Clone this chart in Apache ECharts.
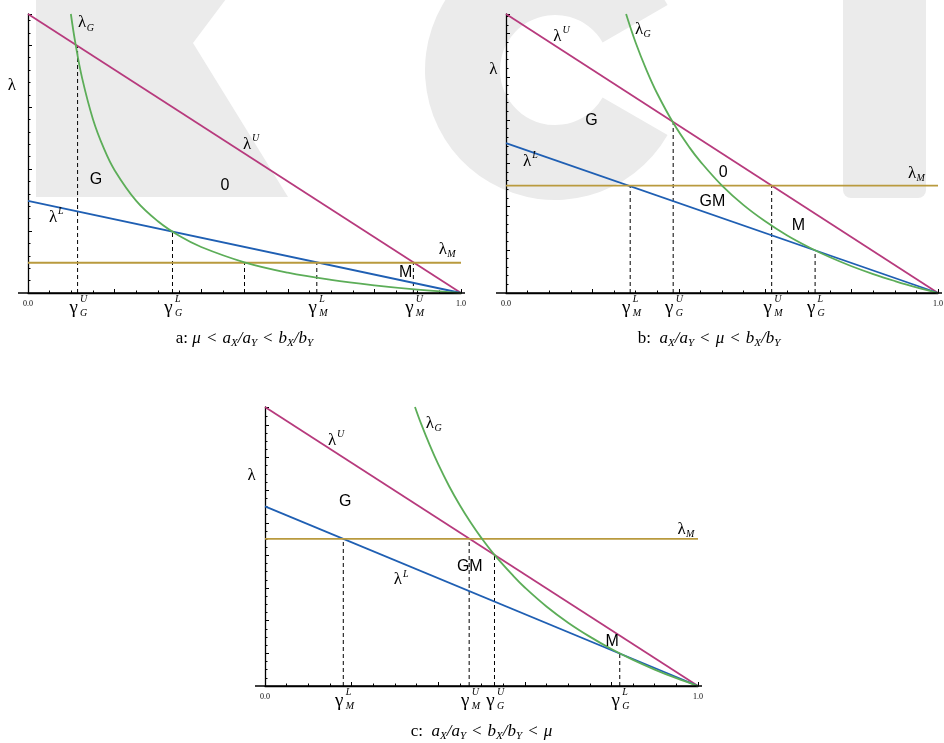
<!DOCTYPE html>
<html>
<head>
<meta charset="utf-8">
<title>lambda regions</title>
<script src="https://cdn.jsdelivr.net/npm/echarts@6/dist/echarts.min.js"></script>
<style>
  html, body { margin: 0; padding: 0; background: #fff; }
  #main { width: 944px; height: 743px; }
</style>
</head>
<body>
<div id="main"></div>
<script>
// x = gamma in [0,1], y = lambda scaled so that lambda^U(0) = 1
const xTickLabels = ['0.0', '1.0'];

// panel a: mu < aX/aY < bX/bY
const lamUA = [[0, 1], [1, 0]];
const lamLA = [[0, 0.33], [1, 0]];
const lamMA = [[0, 0.1085], [1, 0.1085]];
const lamGA = [[0.099, 1.0], [0.11, 0.89], [0.125, 0.77], [0.15, 0.623], [0.175, 0.519], [0.2, 0.44],
  [0.25, 0.33], [0.3, 0.257], [0.35, 0.204], [0.4, 0.165], [0.5, 0.11], [0.6, 0.073], [0.7, 0.047],
  [0.8, 0.0275], [0.9, 0.012], [1.0, 0]];
const cutXA = [0.1145, 0.3337, 0.5, 0.667, 0.89];
const cutTopA = [0.885, 0.222, 0.1085, 0.1085, 0.1085];
const cutNameA = [['G', 'U'], ['G', 'L'], null, ['M', 'L'], ['M', 'U']];

// panel b: aX/aY < mu < bX/bY
const lamUB = [[0, 1], [1, 0]];
const lamLB = [[0, 0.537], [1, 0]];
const lamMB = [[0, 0.385], [1, 0.385]];
const lamGB = [[0.278, 1.0], [0.3, 0.898], [0.325, 0.8], [0.35, 0.715], [0.387, 0.61], [0.425, 0.521],
  [0.45, 0.471], [0.5, 0.385], [0.55, 0.315], [0.6, 0.257], [0.65, 0.207], [0.7, 0.165], [0.75, 0.128],
  [0.8, 0.096], [0.85, 0.068], [0.9, 0.043], [0.95, 0.02], [1.0, 0]];
const cutXB = [0.2875, 0.387, 0.615, 0.7155];
const cutTopB = [0.385, 0.613, 0.385, 0.1528];
const cutNameB = [['M', 'L'], ['G', 'U'], ['M', 'U'], ['G', 'L']];

// panel c: aX/aY < bX/bY < mu
const lamUC = [[0, 1], [1, 0]];
const lamLC = [[0, 0.644], [1, 0]];
const lamMC = [[0, 0.527], [1, 0.527]];
const lamGC = [[0.3464, 1.0], [0.36, 0.942], [0.38, 0.865], [0.4, 0.795], [0.425, 0.717], [0.45, 0.648],
  [0.475, 0.586], [0.5, 0.53], [0.53, 0.47], [0.575, 0.392], [0.6, 0.353], [0.65, 0.285], [0.7, 0.227],
  [0.75, 0.177], [0.8, 0.1325], [0.85, 0.0935], [0.9, 0.0589], [0.95, 0.0279], [1.0, 0]];
const cutXC = [0.1808, 0.4715, 0.53, 0.8193];
const cutTopC = [0.527, 0.527, 0.47, 0.1165];
const cutNameC = [['M', 'L'], ['M', 'U'], ['G', 'U'], ['G', 'L']];

// text annotations (data coords of the base glyph)
const notesA = [
  { t: 'λ', sub: 'G', at: [0.125, 0.968] },
  { t: 'λ', sup: 'U', at: [0.506, 0.531] },
  { t: 'λ', sup: 'L', at: [0.058, 0.27] },
  { t: 'λ', sub: 'M', at: [0.958, 0.155] },
  { t: 'λ', at: [-0.037, 0.745] },
  { t: 'G', region: true, at: [0.157, 0.406] },
  { t: '0', region: true, at: [0.455, 0.385] },
  { t: 'M', region: true, at: [0.872, 0.073] }
];
const notesB = [
  { t: 'λ', sup: 'U', at: [0.119, 0.921] },
  { t: 'λ', sub: 'G', at: [0.308, 0.946] },
  { t: 'λ', sup: 'L', at: [0.049, 0.47] },
  { t: 'λ', sub: 'M', at: [0.94, 0.427] },
  { t: 'λ', at: [-0.029, 0.8] },
  { t: 'G', region: true, at: [0.198, 0.618] },
  { t: '0', region: true, at: [0.503, 0.432] },
  { t: 'GM', region: true, at: [0.478, 0.328] },
  { t: 'M', region: true, at: [0.677, 0.242] }
];
const notesC = [
  { t: 'λ', sup: 'U', at: [0.155, 0.881] },
  { t: 'λ', sub: 'G', at: [0.381, 0.942] },
  { t: 'λ', sub: 'M', at: [0.962, 0.562] },
  { t: 'λ', sup: 'L', at: [0.307, 0.38] },
  { t: 'λ', at: [-0.031, 0.755] },
  { t: 'G', region: true, at: [0.185, 0.66] },
  { t: 'GM', region: true, at: [0.473, 0.427] },
  { t: 'M', region: true, at: [0.802, 0.159] }
];

const captionA = '{n|a: }{i|μ}{lt|<}{i|a}{s|X}{i|/a}{s|Y}{lt|<}{i|b}{s|X}{i|/b}{s|Y}';
const captionB = '{n|b:  }{i|a}{s|X}{i|/a}{s|Y}{lt|<}{i|μ}{lt|<}{i|b}{s|X}{i|/b}{s|Y}';
const captionC = '{n|c:  }{i|a}{s|X}{i|/a}{s|Y}{lt|<}{i|b}{s|X}{i|/b}{s|Y}{lt|<}{i|μ}';

const COL = { U: '#b73a7d', L: '#1f5fb3', M: '#b99a3e', G: '#5cad58' };
const SERIF = '"Liberation Serif", "Times New Roman", serif';
const SANS = '"Liberation Sans", Arial, sans-serif';
const WM = '#ebebeb';

const panels = [
  { grid: { left: 28, top: 14, width: 433, height: 279 }, yStep: 0.222, ySplit: 5,
    U: lamUA, L: lamLA, M: lamMA, G: lamGA, cutX: cutXA, cutTop: cutTopA, cutName: cutNameA,
    notes: notesA, caption: captionA, capX: 0.5 },
  { grid: { left: 506, top: 14, width: 432, height: 279 }, yStep: 0.155, ySplit: 5,
    U: lamUB, L: lamLB, M: lamMB, G: lamGB, cutX: cutXB, cutTop: cutTopB, cutName: cutNameB,
    notes: notesB, caption: captionB, capX: 0.47 },
  { grid: { left: 265, top: 407, width: 433, height: 279 }, yStep: 0.117, ySplit: 4,
    U: lamUC, L: lamLC, M: lamMC, G: lamGC, cutX: cutXC, cutTop: cutTopC, cutName: cutNameC,
    notes: notesC, caption: captionC, capX: 0.5 }
];

const chart = echarts.init(document.getElementById('main'));

const grids = [], xAxes = [], yAxes = [], series = [];
panels.forEach(function (p, i) {
  grids.push(Object.assign({ containLabel: false, outerBoundsMode: 'none' }, p.grid));
  xAxes.push({
    gridIndex: i, type: 'value', min: 0, max: 1, interval: 0.2,
    axisLine: { show: true, onZero: false, lineStyle: { color: '#000', width: 1.3 } },
    axisTick: { show: true, inside: true, length: 4, lineStyle: { color: '#000', width: 1 } },
    minorTick: { show: true, splitNumber: 4, length: 2.5, lineStyle: { color: '#000', width: 1 } },
    splitLine: { show: false }, minorSplitLine: { show: false },
    axisLabel: {
      show: true, margin: 7, color: '#000', fontFamily: SERIF, fontSize: 8,
      showMinLabel: true, showMaxLabel: true,
      formatter: function (v) { return v === 0 ? xTickLabels[0] : (v === 1 ? xTickLabels[1] : ''); }
    }
  });
  yAxes.push({
    gridIndex: i, type: 'value', min: 0, max: 1, interval: p.yStep,
    axisLine: { show: true, onZero: false, lineStyle: { color: '#000', width: 1.3 } },
    axisTick: { show: true, inside: true, length: 4, lineStyle: { color: '#000', width: 1 } },
    minorTick: { show: true, splitNumber: p.ySplit, length: 2.5, lineStyle: { color: '#000', width: 1 } },
    splitLine: { show: false }, minorSplitLine: { show: false },
    axisLabel: { show: false }
  });
  p.cutX.forEach(function (x, k) {
    series.push({
      type: 'line', xAxisIndex: i, yAxisIndex: i, symbol: 'none', silent: true, z: 3,
      data: [[x, 0], [x, p.cutTop[k]]],
      lineStyle: { color: '#000', width: 1, type: [4, 3] }
    });
  });
  [['U', false], ['L', false], ['M', false], ['G', true]].forEach(function (d) {
    series.push({
      type: 'line', xAxisIndex: i, yAxisIndex: i, symbol: 'none', silent: true, z: 4,
      smooth: d[1] ? 0.4 : false,
      data: p[d[0]],
      lineStyle: { color: COL[d[0]], width: 1.8 }
    });
  });
});

chart.setOption({
  backgroundColor: '#fff',
  animation: false,
  grid: grids, xAxis: xAxes, yAxis: yAxes, series: series
});

function txt(x, y, s, font, align) {
  return {
    type: 'text', x: x, y: y, z: 20, silent: true,
    style: { text: s, font: font, fill: '#000', align: align, verticalAlign: 'middle',
      textAlign: align, textVerticalAlign: 'middle' }
  };
}

const graphics = [
  // light KCI watermark
  { type: 'polygon', z: -5, silent: true,
    shape: { points: [[36, -5], [229, -5], [193, 43], [288, 197], [36, 197]] },
    style: { fill: WM } },
  { type: 'sector', z: -5, silent: true,
    shape: { cx: 555, cy: 70, r: 130, r0: 55, startAngle: Math.PI / 6, endAngle: Math.PI * 11 / 6, clockwise: true },
    style: { fill: WM } },
  { type: 'rect', z: -5, silent: true,
    shape: { x: 843, y: -10, width: 83, height: 208, r: 8 },
    style: { fill: WM } }
];

panels.forEach(function (p, i) {
  const toPx = function (pt) { return chart.convertToPixel({ gridIndex: i }, pt); };
  // x axis runs a little past both ends
  const o = toPx([0, 0]), e = toPx([1, 0]);
  graphics.push({ type: 'line', z: 10, silent: true,
    shape: { x1: o[0] - 10, y1: o[1], x2: e[0] + 4, y2: e[1] },
    style: { stroke: '#000', lineWidth: 1.3 } });
  p.notes.forEach(function (n) {
    const c = toPx(n.at);
    if (n.region) {
      graphics.push(txt(c[0], c[1], n.t, '16px ' + SANS, 'center'));
      return;
    }
    graphics.push(txt(c[0], c[1], n.t, '17px ' + SERIF, 'center'));
    if (n.sup) graphics.push(txt(c[0] + 5, c[1] - 6, n.sup, 'italic 10px ' + SERIF, 'left'));
    if (n.sub) graphics.push(txt(c[0] + 4.5, c[1] + 5, n.sub, 'italic 10px ' + SERIF, 'left'));
  });
  p.cutX.forEach(function (x, k) {
    const nm = p.cutName[k];
    if (!nm) return;
    const c = toPx([x, 0]);
    const gx = c[0] - 4;
    graphics.push(txt(gx, c[1] + 15, 'γ', '19px ' + SERIF, 'center'));
    graphics.push(txt(gx + 6.5, c[1] + 6.5, nm[1], 'italic 10px ' + SERIF, 'left'));
    graphics.push(txt(gx + 6.5, c[1] + 20, nm[0], 'italic 10px ' + SERIF, 'left'));
  });
  const cp = toPx([p.capX, 0]);
  graphics.push({
    type: 'text', x: cp[0], y: cp[1] + 46, z: 20, silent: true,
    style: {
      text: p.caption, fill: '#000', align: 'center', verticalAlign: 'middle',
      textAlign: 'center', textVerticalAlign: 'middle',
      rich: {
        n: { fontFamily: SERIF, fontSize: 17, lineHeight: 20, fill: '#000' },
        lt: { fontFamily: SERIF, fontSize: 17, lineHeight: 20, fill: '#000', padding: [0, 6, 0, 6] },
        i: { fontFamily: SERIF, fontSize: 17, fontStyle: 'italic', lineHeight: 20, fill: '#000' },
        s: { fontFamily: SERIF, fontSize: 11, fontStyle: 'italic', lineHeight: 11, verticalAlign: 'bottom', fill: '#000' }
      }
    }
  });
});

chart.setOption({ graphic: { elements: graphics } });
</script>
</body>
</html>
